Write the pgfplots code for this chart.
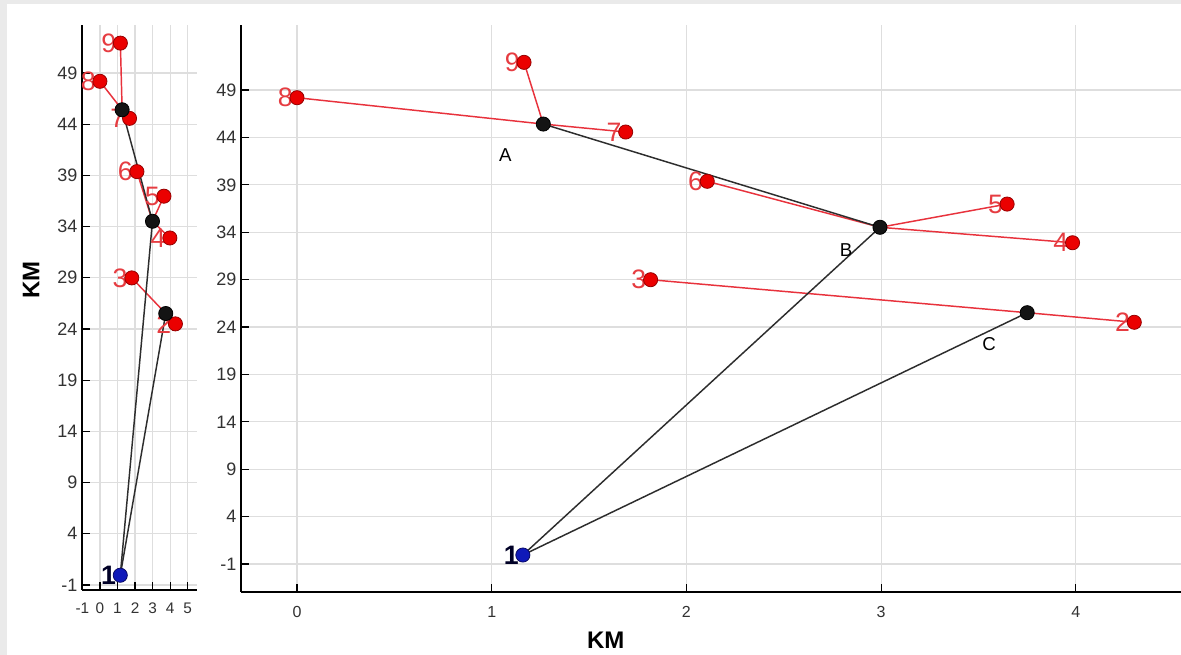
\documentclass[border=0pt]{standalone}
\usepackage{pgfplots}
\pgfplotsset{compat=1.18}
\usepackage{pgfplotstable}
\usepackage{fontspec}
\setmainfont{Liberation Sans}

\definecolor{redline}{RGB}{232,50,60}
\definecolor{redfill}{RGB}{235,0,0}
\definecolor{rededge}{RGB}{150,0,0}
\definecolor{redtext}{RGB}{230,60,65}
\definecolor{blkline}{RGB}{45,45,45}
\definecolor{bluefill}{RGB}{15,25,185}
\definecolor{blueedge}{RGB}{10,10,100}
\definecolor{gridc}{RGB}{222,222,222}
\definecolor{tickc}{RGB}{50,50,50}
\definecolor{bgc}{RGB}{234,234,234}

\pgfplotstableread{
x y lab
4.300 24.50 2
1.816 28.99 3
3.983 32.89 4
3.647 36.97 5
2.107 39.37 6
1.688 44.57 7
0.000 48.19 8
1.166 51.92 9
}\redpts

\pgfplotstableread{
x y lab
1.265 45.41 A
2.994 34.52 B
3.750 25.51 C
}\blkpts

\pgfplotstableread{
x y lab
1.16 -0.05 1
}\bluept

\pgfplotsset{
  base/.style={
    scale only axis,
    axis lines*=left,
    tick align=inside,
    grid=major,
    major grid style={draw=gridc, line width=0.9pt},
    ytick={-1,4,...,49},
    yticklabel style={font=\fontsize{13.5}{15}\selectfont, text=tickc},
    /pgf/number format/assume math mode=true,
    axis line style={line width=1.1pt, black},
    major tick style={line width=0.9pt, black},
    major tick length=6pt,
    label style={font=\bfseries\fontsize{18}{20}\selectfont, text=black},
  },
  numlab/.style={draw=none, mark=none, nodes near coords, point meta=explicit symbolic,
    nodes near coords align={anchor=east},
    every node near coord/.append style={font=\fontsize{20}{20}\selectfont, inner sep=0pt, xshift=-3pt, text=#1}},
  rl/.style={redline, line width=1.1pt, mark=none},
  bl/.style={blkline, line width=1.1pt, mark=none},
}

\newcommand{\plotbody}{%
  \addplot[numlab=redtext] table[x=x, y=y, meta=lab] {\redpts};
  \addplot[numlab=black!85!blue, every node near coord/.append style={font=\bfseries\fontsize{20}{20}\selectfont}] table[x=x, y=y, meta=lab] {\bluept};
  \addplot[rl] coordinates {(0,48.19) (1.265,45.41) (1.688,44.57)};
  \addplot[rl] coordinates {(1.166,51.92) (1.265,45.41)};
  \addplot[rl] coordinates {(2.107,39.37) (2.994,34.52) (3.647,36.97)};
  \addplot[rl] coordinates {(2.994,34.52) (3.983,32.89)};
  \addplot[rl] coordinates {(1.816,28.99) (3.75,25.51) (4.30,24.50)};
  \addplot[bl] coordinates {(1.16,-0.05) (2.994,34.52)};
  \addplot[bl] coordinates {(1.16,-0.05) (3.75,25.51)};
  \addplot[bl] coordinates {(1.265,45.41) (2.994,34.52)};
  \addplot[only marks, mark=*, mark size=5.3pt, mark options={fill=redfill, draw=rededge, line width=0.6pt}] table[x=x, y=y] {\redpts};
  \addplot[only marks, mark=*, mark size=5.3pt, mark options={fill=black!92, draw=black, line width=0.6pt}] table[x=x, y=y] {\blkpts};
  \addplot[only marks, mark=*, mark size=5.3pt, mark options={fill=bluefill, draw=blueedge, line width=0.6pt}] table[x=x, y=y] {\bluept};
}

\begin{document}
\begin{tikzpicture}
\path[use as bounding box] (0,0) rectangle (885.75pt,491.25pt);
\fill[bgc] (0,0) rectangle (885.75pt,491.25pt);
\fill[white] (5.25pt,0) rectangle (885.75pt,488.25pt);

% small overview axis
\begin{axis}[base,
  at={(61.5pt,48.75pt)}, anchor=south west,
  width=86.25pt, height=423.75pt,
  xmin=-1.02, xmax=5.53, ymin=-1.49, ymax=53.69,
  xtick={-1,0,...,5},
  xticklabel style={font=\fontsize{11.5}{13}\selectfont, text=tickc, yshift=-6pt},
  ylabel={KM},
  ylabel style={at={(axis description cs:-0.443,0.549)}, anchor=center},
]
\plotbody
\end{axis}

% main axis
\begin{axis}[base,
  at={(180.75pt,47.25pt)}, anchor=south west,
  width=705pt, height=425.25pt,
  xmin=-0.2875, xmax=4.54, ymin=-3.95, ymax=55.86,
  xtick={0,...,4},
  xticklabel style={font=\fontsize{12}{14}\selectfont, text=tickc, yshift=-7pt},
  xlabel={KM},
  xlabel style={at={(axis description cs:0.388,-0.0847)}, anchor=center},
]
\plotbody
\addplot[draw=none, mark=none, nodes near coords, point meta=explicit symbolic,
  nodes near coords align={anchor=center},
  every node near coord/.append style={font=\fontsize{14}{14}\selectfont, text=black, xshift=-28.5pt, yshift=-23.6pt}]
  coordinates {(1.265,45.41) [A] (3.75,25.51) [C]};
\addplot[draw=none, mark=none, nodes near coords, point meta=explicit symbolic,
  nodes near coords align={anchor=center},
  every node near coord/.append style={font=\fontsize{14}{14}\selectfont, text=black, xshift=-25.5pt, yshift=-17.25pt}]
  coordinates {(2.994,34.52) [B]};
\end{axis}
\end{tikzpicture}
\end{document}
